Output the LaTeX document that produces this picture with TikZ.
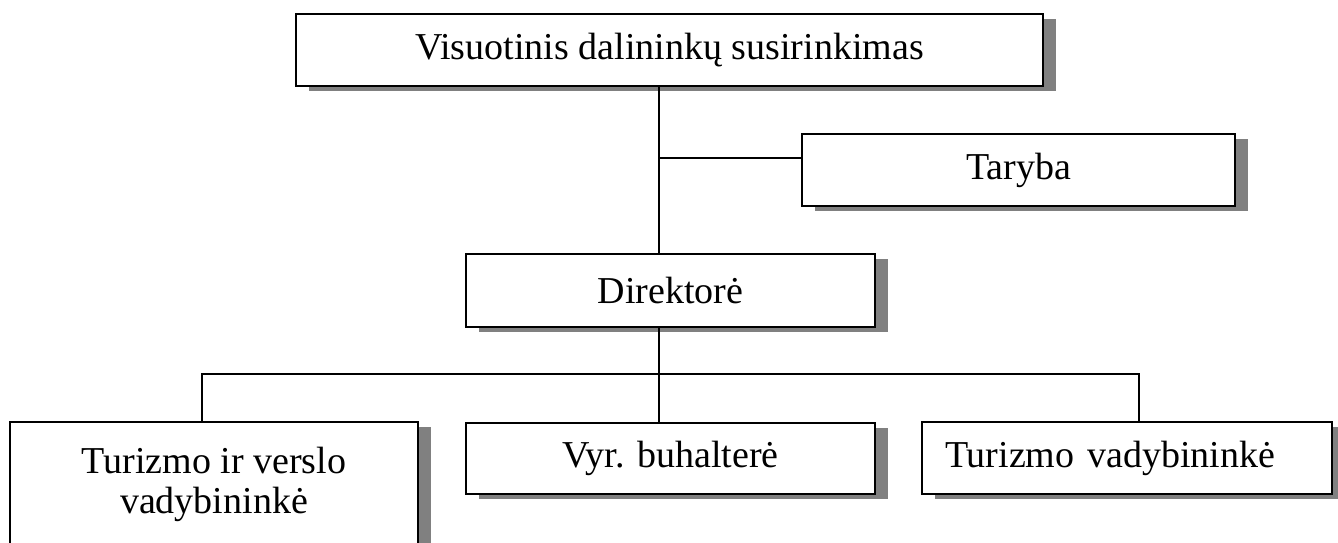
\documentclass[tikz,border=0pt]{standalone}
\usepackage{fontspec}
\setmainfont{Liberation Serif}
\usetikzlibrary{shadows}
\tikzset{
  orgbox/.style={draw, line width=1pt, fill=white, inner sep=0pt,
    font=\fontsize{19}{20}\selectfont,
    drop shadow={shadow xshift=6.5pt, shadow yshift=-2.5pt, fill=black!50, opacity=1}},
  link/.style={line width=1pt}
}
\begin{document}
\begin{tikzpicture}[x=0.5pt, y=-0.5pt]
\useasboundingbox (0,0) rectangle (1338,542);
\node[orgbox, minimum width=373.5pt, minimum height=36pt] (top) at (669.5,50) {Visuotinis dalininkų susirinkimas};
\node[orgbox, minimum width=216.5pt, minimum height=36pt] (taryba) at (1018.5,170) {Taryba};
\node[orgbox, minimum width=204.5pt, minimum height=36.5pt] (dir) at (670.5,290.5) {Direktorė};
\node[orgbox, minimum width=204.5pt, minimum height=35.5pt] (vyr) at (670.5,458.5) {Vyr. buhalterė};
\node[orgbox, minimum height=36pt, inner xsep=11.5pt, text width=182pt, align=left] (tv) at (1127,458) {Turizmo vadybininkė};
\node[orgbox, minimum width=204pt, minimum height=62pt, align=center] (tiv) at (214,484) {Turizmo ir verslo\\vadybininkė};
\coordinate (trunk) at (659,0);
\coordinate (jt) at (659,158);
\coordinate (bl) at (202,374);
\coordinate (br) at (1139,374);
\draw[link] (top.south -| trunk) -- (dir.north -| trunk);
\draw[link] (jt) -- (jt -| taryba.west);
\draw[link] (dir.south -| trunk) -- (vyr.north -| trunk);
\draw[link] (tiv.north -| bl) -- (bl) -- (br) -- (tv.north -| br);
\end{tikzpicture}
\end{document}
